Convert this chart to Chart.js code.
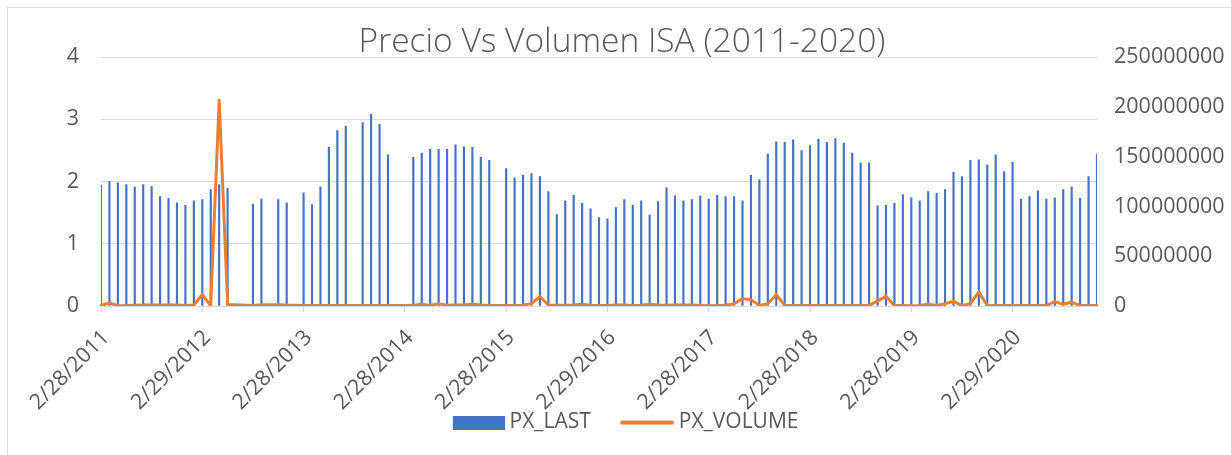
<!DOCTYPE html>
<html><head><meta charset="utf-8">
<script src="https://cdn.jsdelivr.net/npm/chart.js@4.4.1/dist/chart.umd.min.js"></script>
<style>
html,body{margin:0;padding:0;overflow:hidden;background:#fff;width:1231px;height:455px}
#wrap{position:absolute;left:7px;top:7px;width:1228px;height:452px;border:1px solid #d9d9d9;background:#fff}
canvas{display:block}
</style></head><body>
<div id="wrap"><canvas id="c" width="1228" height="452"></canvas></div>
<script>
const categories = [
"2/28/2011","3/31/2011","4/30/2011","5/31/2011","6/30/2011","7/31/2011","8/31/2011","9/30/2011","10/31/2011","11/30/2011","12/31/2011",
"1/31/2012","2/29/2012","3/31/2012","4/30/2012","5/31/2012","6/30/2012","7/31/2012","8/31/2012","9/30/2012","10/31/2012","11/30/2012","12/31/2012",
"1/31/2013","2/28/2013","3/31/2013","4/30/2013","5/31/2013","6/30/2013","7/31/2013","8/31/2013","9/30/2013","10/31/2013","11/30/2013","12/31/2013",
"1/31/2014","2/28/2014","3/31/2014","4/30/2014","5/31/2014","6/30/2014","7/31/2014","8/31/2014","9/30/2014","10/31/2014","11/30/2014","12/31/2014",
"1/31/2015","2/28/2015","3/31/2015","4/30/2015","5/31/2015","6/30/2015","7/31/2015","8/31/2015","9/30/2015","10/31/2015","11/30/2015","12/31/2015",
"1/31/2016","2/29/2016","3/31/2016","4/30/2016","5/31/2016","6/30/2016","7/31/2016","8/31/2016","9/30/2016","10/31/2016","11/30/2016","12/31/2016",
"1/31/2017","2/28/2017","3/31/2017","4/30/2017","5/31/2017","6/30/2017","7/31/2017","8/31/2017","9/30/2017","10/31/2017","11/30/2017","12/31/2017",
"1/31/2018","2/28/2018","3/31/2018","4/30/2018","5/31/2018","6/30/2018","7/31/2018","8/31/2018","9/30/2018","10/31/2018","11/30/2018","12/31/2018",
"1/31/2019","2/28/2019","3/31/2019","4/30/2019","5/31/2019","6/30/2019","7/31/2019","8/31/2019","9/30/2019","10/31/2019","11/30/2019","12/31/2019",
"1/31/2020","2/29/2020","3/31/2020","4/30/2020","5/31/2020","6/30/2020","7/31/2020","8/31/2020","9/30/2020","10/31/2020","11/30/2020","12/31/2020"
];
const xTickLabels = ["2/28/2011","2/29/2012","2/28/2013","2/28/2014","2/28/2015","2/29/2016","2/28/2017","2/28/2018","2/28/2019","2/29/2020"];
const pxLast = [
1.94, 2.00, 1.98, 1.95, 1.91, 1.95, 1.92, 1.76, 1.73, 1.66, 1.62,
1.69, 1.71, 1.87, 1.95, 1.89, null, null, 1.64, 1.72, null, 1.71, 1.66,
null, 1.82, 1.63, 1.91, 2.55, 2.82, 2.89, null, 2.95, 3.08, 2.92, 2.43,
null, null, 2.39, 2.46, 2.52, 2.52, 2.52, 2.59, 2.56, 2.55, 2.39, 2.34,
null, 2.21, 2.06, 2.10, 2.13, 2.08, 1.84, 1.47, 1.69, 1.78, 1.65, 1.56,
1.42, 1.40, 1.58, 1.71, 1.62, 1.69, 1.46, 1.68, 1.90, 1.77, 1.69, 1.71,
1.77, 1.72, 1.78, 1.76, 1.76, 1.69, 2.10, 2.03, 2.44, 2.64, 2.63, 2.67,
2.50, 2.58, 2.68, 2.63, 2.69, 2.62, 2.46, 2.30, 2.30, 1.61, 1.62, 1.65,
1.79, 1.74, 1.69, 1.84, 1.81, 1.87, 2.15, 2.08, 2.34, 2.35, 2.27, 2.43,
2.16, 2.31, 1.72, 1.76, 1.85, 1.72, 1.74, 1.87, 1.91, 1.73, 2.08, 2.44
];
const pxVolume = [
600000, 3000000, 300000, 500000, 800000, 1000000, 1000000, 1000000, 1000000, 900000, 600000,
900000, 11500000, 300000, 207000000, 1500000, null, null, 600000, 1300000, null, 1300000, 900000,
null, 500000, 500000, 500000, 500000, 500000, 500000, null, 500000, 500000, 500000, 500000,
null, null, 600000, 1800000, 500000, 2400000, 800000, 900000, 1000000, 1800000, 900000, 600000,
null, 500000, 600000, 800000, 2500000, 9500000, 1000000, 800000, 800000, 1000000, 1800000, 700000,
600000, 600000, 900000, 1000000, 600000, 700000, 1800000, 1000000, 700000, 900000, 1000000, 1000000,
600000, 300000, 500000, 800000, 2300000, 7400000, 6400000, 600000, 2300000, 11400000, 500000, 500000,
500000, 500000, 500000, 500000, 500000, 500000, 500000, 500000, 600000, 5000000, 9700000, 500000,
500000, 300000, 500000, 1700000, 600000, 2300000, 4700000, 500000, 2300000, 14000000, 500000, 500000,
500000, 500000, 500000, 500000, 500000, 500000, 4400000, 1700000, 3700000, 500000, 500000, 500000
];
const leftTicks = [0, 1, 2, 3, 4];
const rightTicks = [0, 50000000, 100000000, 150000000, 200000000, 250000000];

const FONT = "'Open Sans', 'Noto Sans', sans-serif";
const TXT = '#595959';
const TICK_SIZE = 21.5;

function legendImg(w, h, draw) {
  const c = document.createElement('canvas');
  c.width = w; c.height = h;
  draw(c.getContext('2d'));
  return c;
}
const barImg = legendImg(65, 14, g => { g.fillStyle = '#4472C4'; g.fillRect(13, 0, 52, 14); });
const lineImg = legendImg(65, 14, g => {
  g.strokeStyle = '#ED7D31'; g.lineWidth = 4; g.lineCap = 'round';
  g.beginPath(); g.moveTo(13, 7); g.lineTo(63, 7); g.stroke();
});

// let the rotated x labels overflow their scale box (as in the original)
const noLabelClip = {
  id: 'noLabelClip',
  beforeDraw(chart) { if (chart.scales.x) chart.scales.x._computeLabelArea = () => undefined; }
};

new Chart(document.getElementById('c'), {
  type: 'bar',
  plugins: [noLabelClip],
  data: {
    labels: categories,
    datasets: [
      { type: 'bar', label: 'PX_LAST', data: pxLast, yAxisID: 'y', backgroundColor: '#4472C4',
        borderWidth: 0, barThickness: 1.5, order: 1 },
      { type: 'line', label: 'PX_VOLUME', data: pxVolume, yAxisID: 'y1', borderColor: '#ED7D31',
        backgroundColor: '#ED7D31', borderWidth: 3, pointRadius: 0, pointHoverRadius: 0, tension: 0,
        spanGaps: true, order: 0, borderJoinStyle: 'round', borderCapStyle: 'round' }
    ]
  },
  options: {
    responsive: false,
    devicePixelRatio: 1,
    animation: false,
    layout: { padding: { left: 0, right: 0, top: 0, bottom: 17 } },
    plugins: {
      tooltip: { enabled: false },
      title: { display: true, text: 'Precio Vs Volumen ISA (2011-2020)', color: TXT,
        font: { family: FONT, size: 33.5, weight: '300', lineHeight: 0.9 }, padding: { top: 19, bottom: 0 } },
      legend: {
        position: 'bottom',
        labels: {
          usePointStyle: true, pointStyleWidth: 53.5, padding: 24, color: TXT,
          font: { family: FONT, size: 21 },
          generateLabels(chart) {
            const items = Chart.defaults.plugins.legend.labels.generateLabels(chart);
            items.sort((a, b) => a.datasetIndex - b.datasetIndex);
            items.forEach(it => { it.pointStyle = it.datasetIndex === 0 ? barImg : lineImg; });
            return items;
          }
        }
      }
    },
    scales: {
      x: {
        type: 'category', offset: false,
        grid: { offset: false, drawOnChartArea: false, drawTicks: true, tickLength: 6, lineWidth: 1,
          color: ctx => (xTickLabels.includes(categories[ctx.index]) ? '#d9d9d9' : 'rgba(0,0,0,0)') },
        border: { display: true, color: '#d9d9d9', width: 1 },
        ticks: { autoSkip: false, minRotation: 45, maxRotation: 45, padding: 13, labelOffset: 5, color: TXT,
          font: { family: FONT, size: TICK_SIZE },
          callback(v) { const l = this.getLabelForValue(v); return xTickLabels.includes(l) ? l : ''; } },
        afterFit(s) { s.height = 82; }
      },
      y: {
        position: 'left', min: leftTicks[0], max: leftTicks[leftTicks.length - 1],
        afterBuildTicks(s) { s.ticks = leftTicks.map(v => ({ value: v })); },
        ticks: { padding: 22, color: TXT, font: { family: FONT, size: TICK_SIZE } },
        grid: { color: '#d9d9d9', drawTicks: false, lineWidth: 1 },
        border: { display: false },
        afterFit(s) { s.width = 93; }
      },
      y1: {
        position: 'right', min: rightTicks[0], max: rightTicks[rightTicks.length - 1],
        afterBuildTicks(s) { s.ticks = rightTicks.map(v => ({ value: v })); },
        ticks: { padding: 17, color: TXT, font: { family: FONT, size: TICK_SIZE }, callback: v => String(v) },
        grid: { drawOnChartArea: false, drawTicks: false },
        border: { display: false },
        afterFit(s) { s.width = 139; }
      }
    }
  }
});
</script>
</body></html>
